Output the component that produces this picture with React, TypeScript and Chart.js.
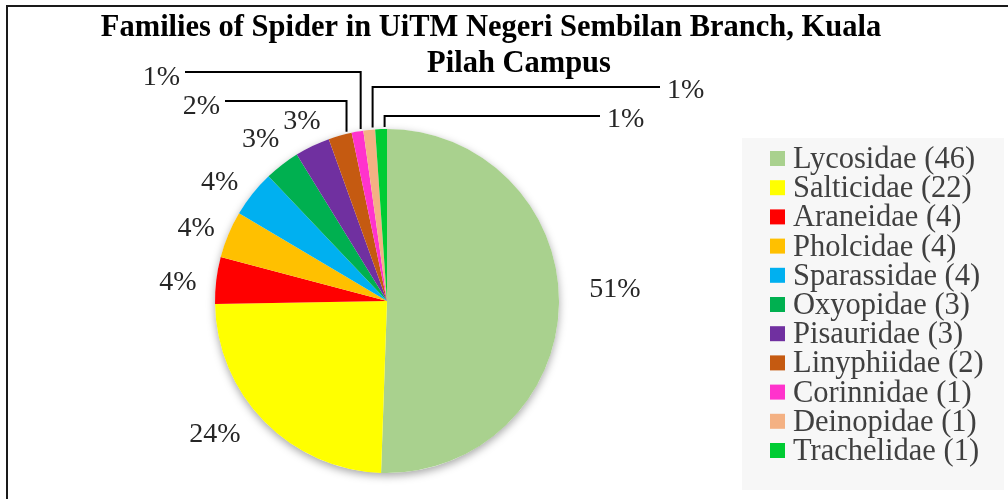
import React, { useEffect, useRef } from 'react';
import { Chart, registerables } from 'chart.js';

Chart.register(...registerables);

const families = [
  'Lycosidae', 'Salticidae', 'Araneidae', 'Pholcidae', 'Sparassidae', 'Oxyopidae',
  'Pisauridae', 'Linyphiidae', 'Corinnidae', 'Deinopidae', 'Trachelidae',
];
const counts = [46, 22, 4, 4, 4, 3, 3, 2, 1, 1, 1];
const colors = [
  '#A9D18E', '#FFFF00', '#FF0000', '#FFC000', '#00B0F0', '#00B050',
  '#7030A0', '#C55A11', '#FF33CC', '#F4B183', '#00CC33',
];
const titleLines = ['Families of Spider in UiTM Negeri Sembilan Branch, Kuala', 'Pilah Campus'];

const W = 1008;
const H = 499;
const SERIF = '"Liberation Serif", "Times New Roman", serif';

// label placement style: radial factor + angle nudge (deg) for plain labels, leader config for small slices
const labelPlacement: any[] = [
  { r: 1.327, da: -3.8 },
  { r: 1.268, da: 6.6 },
  { r: 1.22, da: -2 },
  { r: 1.187, da: -2 },
  { r: 1.19, da: -3.4 },
  { r: 1.19, da: -0.5 },
  { r: 1.153, da: 0.3 },
  { above: 28, end: -162 },
  { above: 57, end: -202 },
  { above: 42, end: 273 },
  { above: 13, end: 213 },
];

const decorPlugin = {
  id: 'decor',
  beforeDraw(chart: any) {
    const ctx = chart.ctx;
    ctx.save();
    ctx.fillStyle = '#ffffff';
    ctx.fillRect(0, 0, W, H);
    // legend background
    ctx.fillStyle = '#f7f7f7';
    ctx.fillRect(742, 138, 262, 352);
    // outer frame
    ctx.strokeStyle = '#1a1a1a';
    ctx.lineWidth = 2;
    ctx.beginPath();
    ctx.moveTo(7, H);
    ctx.lineTo(7, 6);
    ctx.lineTo(W, 6);
    ctx.stroke();
    ctx.restore();
  },
  beforeDatasetsDraw(chart: any) {
    const arc = chart.getDatasetMeta(0).data[0];
    if (!arc) return;
    const ctx = chart.ctx;
    ctx.save();
    ctx.shadowColor = 'rgba(0,0,0,0.35)';
    ctx.shadowBlur = 9;
    ctx.shadowOffsetY = 3;
    ctx.fillStyle = '#ffffff';
    ctx.beginPath();
    ctx.arc(arc.x, arc.y, arc.outerRadius, 0, Math.PI * 2);
    ctx.fill();
    ctx.restore();
  },
  afterDatasetsDraw(chart: any) {
    const ctx = chart.ctx;
    const meta = chart.getDatasetMeta(0);
    const total = counts.reduce((a, b) => a + b, 0);
    ctx.save();
    ctx.font = `28px ${SERIF}`;
    ctx.fillStyle = '#262626';
    ctx.strokeStyle = '#000000';
    ctx.lineWidth = 2;
    meta.data.forEach((arc: any, i: number) => {
      const text = Math.round((counts[i] / total) * 100) + '%';
      const p = labelPlacement[i];
      const R = arc.outerRadius;
      if (p.r) {
        const mid = (arc.startAngle + arc.endAngle) / 2 + (p.da * Math.PI) / 180;
        const x = arc.x + Math.cos(mid) * R * p.r;
        const y = arc.y + Math.sin(mid) * R * p.r;
        ctx.textAlign = 'center';
        ctx.textBaseline = 'middle';
        ctx.fillText(text, x, y);
      } else {
        const a = arc.startAngle + (arc.endAngle - arc.startAngle) * 0.8;
        const ax = arc.x + Math.cos(a) * (R + 2);
        const ay = arc.y + Math.sin(a) * (R + 2);
        const ey = arc.y - R - p.above;
        const ex = arc.x + p.end;
        ctx.beginPath();
        ctx.moveTo(ax, ay);
        ctx.lineTo(ax, ey);
        ctx.lineTo(ex, ey);
        ctx.stroke();
        ctx.textBaseline = 'middle';
        if (p.end < 0) {
          ctx.textAlign = 'right';
          ctx.fillText(text, ex - 5, ey + 6);
        } else {
          ctx.textAlign = 'left';
          ctx.fillText(text, ex + 7, ey + 4);
        }
      }
    });
    ctx.restore();
  },
  afterDraw(chart: any) {
    const ctx = chart.ctx;
    ctx.save();
    // title
    ctx.fillStyle = '#000000';
    ctx.font = `bold 30.5px ${SERIF}`;
    ctx.textAlign = 'center';
    ctx.textBaseline = 'alphabetic';
    ctx.fillText(titleLines[0], 491, 36);
    ctx.fillText(titleLines[1], 519, 72);
    // legend
    const labels = chart.data.labels as string[];
    const bg = chart.data.datasets[0].backgroundColor as string[];
    ctx.font = `30.5px ${SERIF}`;
    ctx.textAlign = 'left';
    labels.forEach((lab, i) => {
      const base = 168 + i * 29.2;
      ctx.fillStyle = bg[i];
      ctx.fillRect(770, base - 17, 15, 15);
      ctx.fillStyle = '#404040';
      ctx.fillText(lab, 793, base);
    });
    ctx.restore();
  },
};

export default function App() {
  const ref = useRef<HTMLCanvasElement | null>(null);
  useEffect(() => {
    document.body.style.margin = '0';
    const canvas = ref.current!;
    const chart = new Chart(canvas, {
      type: 'pie',
      data: {
        labels: families.map((f, i) => `${f} (${counts[i]})`),
        datasets: [
          {
            data: counts,
            backgroundColor: colors,
            borderWidth: 0,
          },
        ],
      },
      options: {
        responsive: false,
        animation: false,
        events: [],
        layout: { padding: { left: 215, top: 129, right: 449, bottom: 26 } },
        plugins: {
          legend: { display: false },
          title: { display: false },
          tooltip: { enabled: false },
        },
      },
      plugins: [decorPlugin],
    });
    return () => chart.destroy();
  }, []);
  return <canvas ref={ref} width={W} height={H} style={{ display: 'block', width: W, height: H }} />;
}
